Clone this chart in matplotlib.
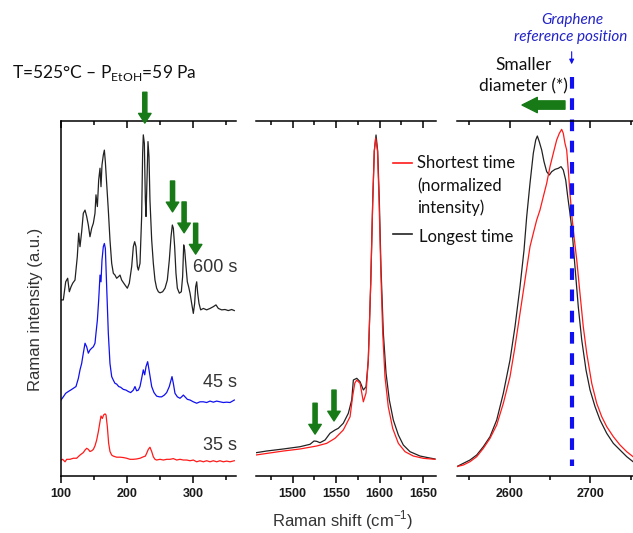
import matplotlib
matplotlib.use("Agg")
import matplotlib.pyplot as plt
from matplotlib.lines import Line2D
from matplotlib.ticker import MultipleLocator

plt.rcParams['font.family'] = ['Liberation Sans', 'DejaVu Sans']
plt.rcParams['mathtext.fontset'] = 'custom'
plt.rcParams['mathtext.rm'] = 'Lato'
plt.rcParams['mathtext.sf'] = 'Liberation Sans'

# ---- RBM region (low wavenumber), three growth times, stacked
rbm_600_x = [100, 103.5, 107.1, 110.1, 112.6, 115.2, 117.7, 121.2, 124.7, 126.8, 128.8, 131.3, 133.8,
             136.4, 138.9, 141.4, 143.9, 146.5, 149.0, 151.5, 153.0, 155.1, 157.1, 159.1, 160.6, 162.1,
             164.1, 165.7, 167.2, 169.2, 171.7, 174.2, 176.8, 179.3, 181.8, 184.3, 187.4, 189.4, 191.9,
             194.4, 197.0, 200.5, 203.5, 207.1, 209.6, 211.6, 213.6, 215.7, 217.2, 219.7, 222.2, 223.7,
             224.7, 226.3, 227.8, 228.8, 230.3, 231.8, 233.3, 234.8, 237.4, 239.9, 242.4, 244.9, 247.5,
             250.0, 254.0, 257.6, 261.1, 264.1, 266.7, 268.7, 270.2, 272.2, 274.2, 276.3, 279.3, 282.3,
             284.3, 285.9, 287.4, 289.4, 291.4, 293.4, 295.5, 298.0, 300.5, 302.5, 304.0, 305.6, 307.1,
             309.1, 311.6, 315.7, 320.7, 325.8, 330.8, 334.8, 338.4, 343.4, 348.5, 353.5, 358.6, 362.6]
rbm_600_y = [49.6, 49.6, 54.7, 55.7, 51.9, 53.3, 54.3, 55.2, 61.8, 68.4, 64.6, 68.8, 74.0,
             74.9, 73.1, 70.7, 67.4, 69.8, 71.2, 74.0, 79.2, 75.9, 83.4, 86.7, 81.5, 87.6,
             90.4, 91.8, 88.5, 82.4, 74.9, 66.5, 59.9, 57.1, 56.6, 55.7, 56.2, 56.6, 55.2,
             54.5, 53.8, 52.9, 54.3, 59.0, 64.6, 66.0, 64.6, 59.0, 58.0, 59.9, 73.1, 90.9,
             96.1, 93.7, 77.7, 73.1, 83.4, 94.2, 90.0, 77.7, 66.5, 59.9, 55.2, 52.9, 51.9,
             51.6, 51.9, 52.9, 55.2, 60.8, 67.4, 70.7, 69.8, 64.6, 57.1, 52.9, 51.5, 51.9,
             56.2, 65.1, 63.7, 59.0, 54.7, 53.3, 51.5, 48.6, 45.8, 48.6, 53.3, 54.7, 51.5,
             48.6, 46.8, 47.2, 46.8, 47.2, 47.7, 48.2, 47.2, 46.8, 46.9, 46.6, 46.9, 46.6]

rbm_45_x = [100, 103.5, 107.1, 111.1, 114.6, 118.7, 122.7, 126.3, 128.8, 131.3, 133.8, 136.4, 138.9,
            141.4, 143.9, 146.5, 149.0, 151.5, 153.0, 155.1, 157.1, 159.1, 160.6, 162.1, 164.1, 165.7,
            167.2, 169.2, 171.7, 174.2, 176.8, 179.3, 181.8, 184.3, 187.4, 190.4, 194.4, 198.5, 202.0,
            205.6, 209.6, 212.1, 214.6, 217.2, 219.7, 222.2, 224.7, 226.8, 228.8, 231.3, 233.8, 237.4,
            240.9, 244.9, 249.0, 252.5, 256.6, 260.1, 264.1, 266.7, 268.2, 270.2, 272.7, 276.3, 280.3,
            282.8, 285.4, 287.9, 291.4, 295.5, 300.5, 305.6, 310.6, 315.7, 320.7, 325.8, 330.8, 335.9,
            340.9, 346.0, 351.0, 356.1, 362.6]
rbm_45_y = [21.4, 22.3, 23.3, 23.8, 24.2, 24.7, 25.2, 27.5, 29.9, 31.7, 34.6, 37.4, 36.4,
            34.6, 35.5, 36.0, 36.4, 37.4, 40.2, 43.9, 49.6, 56.6, 54.7, 60.8, 64.6, 65.5,
            64.1, 53.3, 40.2, 31.7, 28.0, 27.0, 26.1, 25.9, 25.2, 25.0, 24.4, 24.2, 23.8,
            23.5, 24.2, 25.2, 24.0, 24.2, 25.2, 27.5, 29.9, 28.5, 30.8, 32.2, 29.4, 25.2,
            23.5, 22.5, 22.3, 22.3, 22.8, 23.5, 25.2, 27.0, 28.0, 26.1, 23.3, 22.3, 21.9,
            22.3, 22.8, 22.3, 21.6, 21.4, 20.9, 20.5, 20.9, 20.9, 20.7, 21.1, 20.8, 21.1,
            20.9, 20.7, 20.8, 20.7, 21.4]

rbm_35_x = [100, 102.5, 106.1, 108.6, 113.6, 118.7, 123.7, 128.8, 133.8, 136.4, 138.9, 141.4, 143.9,
            146.5, 149.0, 151.5, 154.0, 156.6, 159.1, 160.6, 162.6, 164.6, 166.7, 168.2, 170.2, 172.2,
            174.2, 176.8, 179.3, 184.3, 189.4, 194.4, 199.5, 204.5, 209.6, 214.6, 219.7, 224.7, 227.8,
            229.8, 232.3, 234.8, 237.4, 239.9, 242.4, 244.9, 250.0, 255.1, 260.1, 265.2, 270.2, 275.3,
            280.3, 285.4, 290.4, 295.5, 300.5, 305.6, 310.6, 315.7, 320.7, 325.8, 330.8, 335.9, 340.9,
            346.0, 351.0, 356.1, 362.6]
rbm_35_y = [4.5, 4.7, 4.0, 4.7, 4.7, 5.0, 5.0, 5.9, 6.6, 7.3, 7.8, 7.5, 6.9,
            7.1, 7.5, 8.5, 10.1, 12.5, 15.3, 16.9, 16.2, 17.2, 17.5, 17.2, 13.9, 9.2,
            6.9, 5.9, 5.6, 5.3, 5.3, 5.2, 5.0, 4.7, 4.7, 4.8, 5.0, 5.4, 5.6,
            6.4, 7.5, 8.1, 6.9, 5.4, 4.7, 4.5, 4.7, 4.5, 4.7, 4.7, 4.9, 4.5,
            4.7, 4.5, 4.5, 4.3, 4.5, 4.0, 4.3, 4.0, 4.3, 4.0, 4.3, 4.0, 4.3,
            4.0, 4.2, 4.0, 4.3]

rbm_labels = ['600 s', '45 s', '35 s']
rbm_label_y = [58.6, 26.2, 8.7]
rbm_arrow_x = [227, 269, 286.5, 304]
rbm_arrow_tip = [99.4, 74.4, 68.5, 62.5]

# ---- G band, longest vs shortest time
g_long_x = [1457.7, 1470.0, 1489.2, 1508.4, 1519.9, 1524.5, 1527.6, 1531.4, 1537.2, 1542.9, 1548.7,
            1552.5, 1558.2, 1564.0, 1567.9, 1569.8, 1573.7, 1577.5, 1581.3, 1584.4, 1587.0, 1589.8,
            1592.1, 1593.9, 1595.9, 1597.8, 1599.7, 1601.6, 1604.3, 1607.4, 1611.2, 1615.8, 1621.6,
            1627.3, 1635.0, 1646.5, 1656.1, 1663.8]
g_long_y = [6.56, 7.04, 7.61, 8.25, 8.93, 9.86, 9.77, 9.38, 10.14, 12.03, 12.96,
            13.44, 14.85, 17.66, 21.41, 27.04, 27.52, 26.56, 24.23, 25.15, 32.68, 54.30,
            77.46, 91.55, 96.06, 91.55, 77.46, 58.69, 40.28, 29.01, 21.41, 15.77, 11.55,
            8.73, 6.85, 5.63, 5.15, 4.79]
g_short_x = [1457.7, 1489.2, 1508.4, 1527.6, 1539.1, 1548.7, 1558.2, 1566.0, 1569.0, 1571.5, 1573.7,
             1577.5, 1581.3, 1584.4, 1587.0, 1589.8, 1592.1, 1593.9, 1595.5, 1597.6, 1599.4, 1601.3,
             1603.6, 1606.2, 1610.0, 1615.1, 1621.6, 1629.3, 1638.8, 1650.3, 1663.8]
g_short_y = [5.92, 7.04, 7.61, 8.45, 9.20, 10.62, 12.96, 16.69, 22.5, 26.2, 27.0,
             26.1, 20.9, 23.4, 32.7, 54.3, 77.5, 91.5, 95.2, 91.5, 77.5, 58.7,
             40.3, 27.97, 19.5, 13.4, 9.2, 6.85, 5.63, 4.98, 4.70]
g_arrow_x = [1525.7, 1547.5]
g_arrow_tip = [11.8, 15.5]

# ---- 2D band
d2_long_x = [2534.4, 2542.6, 2550.9, 2559.2, 2567.4, 2575.7, 2584.0, 2592.2, 2600.5, 2606.7, 2612.9,
             2617.9, 2621.2, 2625.3, 2629.4, 2632.4, 2634.4, 2636.8, 2639.8, 2642.7, 2646.0, 2649.3,
             2652.2, 2656.3, 2660.4, 2663.8, 2666.6, 2669.6, 2672.1, 2674.9, 2677.8, 2681.1, 2685.2,
             2689.5, 2694.8, 2699.8, 2706.0, 2712.2, 2720.5, 2728.7, 2737.0, 2745.3, 2753.1]
d2_long_y = [2.63, 3.57, 4.51, 5.92, 8.26, 11.08, 15.77, 23.29, 32.68, 42.07, 53.33,
             63.66, 73.05, 82.44, 90.89, 94.65, 95.77, 94.18, 91.83, 88.54, 85.73, 84.79,
             85.73, 86.38, 86.67, 87.14, 86.20, 83.38, 78.69, 73.99, 68.36, 58.97, 47.70,
             38.31, 29.86, 24.23, 19.53, 15.77, 12.02, 9.20, 7.32, 5.45, 4.04]
d2_short_x = [2534.4, 2542.6, 2550.9, 2559.2, 2567.4, 2575.7, 2584.0, 2592.2, 2600.5, 2606.7, 2612.9,
              2619.1, 2625.3, 2629.4, 2633.6, 2637.7, 2641.8, 2646.0, 2650.1, 2654.2, 2658.4, 2661.7,
              2664.6, 2666.6, 2668.7, 2670.8, 2672.8, 2674.9, 2677.0, 2679.0, 2683.3, 2687.3, 2691.4,
              2695.7, 2701.9, 2708.1, 2714.3, 2720.5, 2728.7, 2737.0, 2745.3, 2753.1]
d2_short_y = [2.63, 3.10, 4.04, 5.45, 7.79, 10.61, 14.37, 20.46, 27.98, 36.43, 45.82,
              55.21, 64.60, 68.36, 72.11, 74.93, 78.69, 82.44, 87.14, 90.89, 94.65, 96.53,
              97.65, 96.53, 93.71, 91.83, 86.20, 79.62, 73.99, 69.30, 60.85, 51.46, 42.07,
              34.55, 26.10, 20.46, 16.71, 13.90, 11.08, 8.73, 6.85, 5.45]
graphene_2d = 2677

GREEN = '#177a17'
BLUE = '#1010f0'
RED = '#ff1a1a'
W, H = 633, 533

fig = plt.figure(figsize=(W / 100, H / 100), dpi=100)


def panel(left, right, top=121, bottom=476):
    return fig.add_axes([left / W, 1 - bottom / H, (right - left) / W, (bottom - top) / H])


def style(ax, xlim, major, minor, left_spine=False):
    ax.set_xlim(*xlim)
    ax.set_ylim(0, 100)
    ax.spines['right'].set_visible(False)
    ax.spines['left'].set_visible(left_spine)
    for s in ax.spines.values():
        s.set_linewidth(1.1)
    ax.xaxis.set_major_locator(MultipleLocator(major))
    ax.xaxis.set_minor_locator(MultipleLocator(minor))
    ax.tick_params(axis='x', which='both', direction='out', top=True, labelsize=9,
                   labelcolor='#1a1a1a', pad=3.5, width=1.1)
    ax.tick_params(axis='x', which='major', length=5)
    ax.tick_params(axis='x', which='minor', length=3)
    for lab in ax.get_xticklabels():
        lab.set_fontweight('bold')
    ax.set_yticks([])
    ax.set_facecolor('none')


def down_arrow(ax, x, tip, length):
    ax.annotate('', xy=(x, tip), xytext=(x, tip + length),
                arrowprops=dict(width=3, headwidth=9, headlength=7, color=GREEN, shrink=0),
                annotation_clip=False)


# RBM panel
ax1 = panel(61, 235.5)
style(ax1, (100, 364.4), 100, 50, left_spine=True)
ax1.plot(rbm_600_x, rbm_600_y, color='#222222', lw=0.9)
ax1.plot(rbm_45_x, rbm_45_y, color=BLUE, lw=0.9)
ax1.plot(rbm_35_x, rbm_35_y, color=RED, lw=0.9)
for lab, yy in zip(rbm_labels, rbm_label_y):
    ax1.text(367, yy, lab, ha='right', va='center', fontsize=13, color='#333333', clip_on=False)
for xx, tip in zip(rbm_arrow_x, rbm_arrow_tip):
    down_arrow(ax1, xx, tip, 8.7)

# G band panel
ax2 = panel(256, 435.7)
style(ax2, (1457.7, 1664.6), 50, 25)
ax2.plot(g_long_x, g_long_y, color='#222222', lw=0.9)
ax2.plot(g_short_x, g_short_y, color=RED, lw=0.9)
for xx, tip in zip(g_arrow_x, g_arrow_tip):
    down_arrow(ax2, xx, tip, 8.7)

# 2D band panel
ax3 = panel(457.3, 633)
style(ax3, (2535.1, 2753.1), 100, 50)
ax3.plot(d2_long_x, d2_long_y, color='#222222', lw=0.9)
ax3.plot(d2_short_x, d2_short_y, color=RED, lw=0.9)
ax3.plot([graphene_2d, graphene_2d], [112.4, 2.8], color=BLUE, lw=3,
         linestyle=(0, (2.8, 2.3)), clip_on=False)
ax3.annotate('', xy=(graphene_2d, 115.2), xytext=(graphene_2d, 120.3),
             arrowprops=dict(arrowstyle='-|>', color=BLUE, lw=0.8, mutation_scale=7),
             annotation_clip=False)
ax3.annotate('', xy=(2615.4, 104.5), xytext=(2668.7, 104.5),
             arrowprops=dict(width=6, headwidth=11, headlength=11, color=GREEN, shrink=0),
             annotation_clip=False)

# top-side ticks point down into the panels
for ax in (ax1, ax2, ax3):
    for t in ax.xaxis.get_major_ticks() + ax.xaxis.get_minor_ticks():
        t.tick2line.set_marker(3)  # TICKDOWN

# legend drawn by hand next to the G band
fig.add_artist(Line2D([393 / W, 412 / W], [1 - 163 / H] * 2, color=RED, lw=1.2))
fig.add_artist(Line2D([393 / W, 412 / W], [1 - 234 / H] * 2, color='#222222', lw=1.2))
for txt, xx, yy in [('Shortest time', 417, 163), ('(normalized', 417, 186),
                    ('intensity)', 417, 208), ('Longest time', 419, 237)]:
    fig.text(xx / W, 1 - yy / H, txt, ha='left', va='center', fontsize=12,
             family=['Lato', 'DejaVu Sans'], color='#111111')

fig.text(12 / W, 1 - 73 / H, r'T=525°C – P$_{\mathrm{EtOH}}$=59 Pa', ha='left', va='center',
         fontsize=12.5, family=['Lato', 'DejaVu Sans'], color='#111111')
fig.text(572 / W, 1 - 20 / H, 'Graphene', ha='center', va='center', fontsize=11,
         style='italic', family=['Lato', 'DejaVu Sans'], color='#2323c8')
fig.text(571 / W, 1 - 37.5 / H, 'reference position', ha='center', va='center', fontsize=11,
         style='italic', family=['Lato', 'DejaVu Sans'], color='#2323c8')
fig.text(524 / W, 1 - 65 / H, 'Smaller', ha='center', va='center', fontsize=12.5,
         family=['Lato', 'DejaVu Sans'], color='#111111')
fig.text(523 / W, 1 - 86 / H, 'diameter (*)', ha='center', va='center', fontsize=12.5,
         family=['Lato', 'DejaVu Sans'], color='#111111')

fig.text(36 / W, 1 - 309 / H, 'Raman intensity (a.u.)', rotation=90, ha='center', va='center',
         fontsize=12, color='#333333')
fig.text(343 / W, 1 - 520 / H, r'Raman shift (cm$^{\mathsf{-1}}$)', ha='center', va='center',
         fontsize=12, color='#333333')

fig.savefig('out.png', dpi=100)
